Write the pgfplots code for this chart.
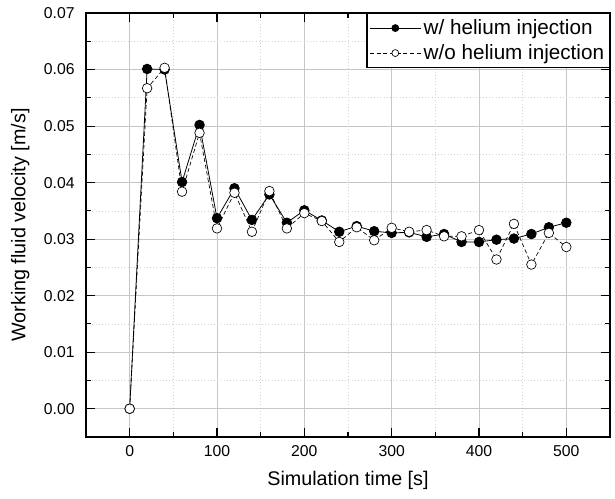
\documentclass[border=0pt]{standalone}
\usepackage{pgfplots}
\pgfplotsset{compat=1.18}
\usepackage{fontspec}
\setmainfont{Liberation Sans}
\begin{document}
\begin{tikzpicture}
\begin{axis}[
  name=ax,
  width=393pt, height=318pt, scale only axis,
  xmin=-50, xmax=550, ymin=-0.005, ymax=0.07,
  xtick={0,100,...,500}, minor xtick={-50,50,150,...,550},
  ytick={0,0.01,...,0.07}, minor ytick={-0.005,0.005,...,0.065},
  /pgf/number format/assume math mode=true,
  scaled y ticks=false,
  tick align=inside, major tick length=6.5pt, minor tick length=3.8pt,
  tick style={black, line width=0.8pt},
  axis line style={line width=1pt},
  grid=both,
  major grid style={gray!45, line width=0.6pt},
  minor grid style={gray!35, dotted, line width=0.5pt},
  xlabel={Simulation time [s]}, ylabel={Working fluid velocity [m/s]},
  label style={font=\fontsize{14.8}{17}\selectfont},
  xlabel style={yshift=-4pt},
  ylabel style={yshift=4pt},
  tick label style={font=\fontsize{11.8}{14}\selectfont},
  xticklabel style={yshift=-3pt},
  yticklabel style={xshift=-5pt, /pgf/number format/.cd, fixed, fixed zerofill, precision=2},
  legend style={at={(1,1)}, anchor=north east, draw=black, line width=0.9pt,
    font=\fontsize{15.5}{18}\selectfont, inner xsep=2pt, inner ysep=2.5pt, row sep=2pt, cells={anchor=west}},
  legend cell align=left,
  legend image code/.code={\draw[mark repeat=2, mark phase=2, mark size=2.6pt] plot coordinates {(0pt,0pt) (19pt,0pt) (38pt,0pt)};},
]
\addplot[black, line width=0.6pt, mark=*, mark size=3.6pt, mark options={solid, fill=black}] coordinates {
(0,0) (20,0.0601) (40,0.0600) (60,0.0401) (80,0.0502) (100,0.0337) (120,0.0390) (140,0.0334) (160,0.0379) (180,0.0329)
(200,0.0351) (220,0.0333) (240,0.0313) (260,0.0323) (280,0.0314) (300,0.0311) (320,0.0312) (340,0.0304) (360,0.0309)
(380,0.0295) (400,0.0295) (420,0.0299) (440,0.0301) (460,0.0309) (480,0.0321) (500,0.0329)
};
\addlegendentry{w/ helium injection}
\addplot[black, densely dashed, line width=0.5pt, mark=*, mark size=3.6pt, mark options={solid, fill=white, line width=0.5pt}] coordinates {
(0,0) (20,0.0567) (40,0.0603) (60,0.0384) (80,0.0488) (100,0.0319) (120,0.0382) (140,0.0313) (160,0.0385) (180,0.0319)
(200,0.0346) (220,0.0332) (240,0.0295) (260,0.0321) (280,0.0298) (300,0.0320) (320,0.0313) (340,0.0316) (360,0.0305)
(380,0.0305) (400,0.0316) (420,0.0264) (440,0.0327) (460,0.0255) (480,0.0311) (500,0.0286)
};
\addlegendentry{w/o helium injection}
\end{axis}
\path ([shift={(-64.5pt,-46.5pt)}]ax.south west) rectangle ([shift={(3.75pt,9.75pt)}]ax.north east);
\end{tikzpicture}
\end{document}
